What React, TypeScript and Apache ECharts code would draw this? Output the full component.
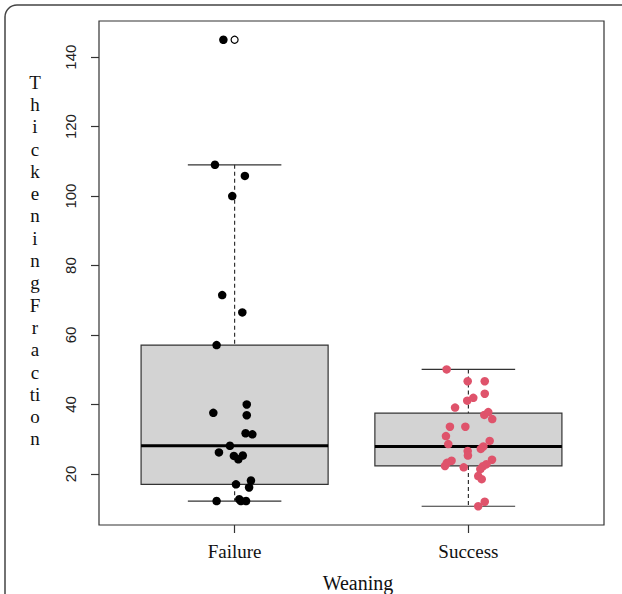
import React, { useEffect, useRef } from "react";
import * as echarts from "echarts";

// ---- data ----
const categories = ["Failure", "Success"];
const yTicks = [20, 40, 60, 80, 100, 120, 140];
const yTitleLetters = ["T", "h", "i", "c", "k", "e", "n", "i", "n", "g", "F", "r", "a", "c", "ti", "o", "n"];

// box statistics: [lower whisker, Q1, median, Q3, upper whisker]
const failureBox = [12.2, 17.0, 28.1, 57.1, 109.0];
const successBox = [10.7, 22.3, 27.9, 37.5, 50.1];
const failureOutliers = [145];

// jittered points (value + horizontal jitter offset in category units)
const failureValues = [145, 109, 105.8, 100, 71.5, 66.5, 57.1, 40.0, 37.6, 36.9, 31.7, 31.4, 28.1, 26.2, 25.2, 24.2, 25.3, 18.1, 17.0, 16.1, 12.7, 12.2, 12.2, 12.2];
const failureJitter = [-0.048, -0.084, 0.044, -0.01, -0.053, 0.033, -0.077, 0.052, -0.091, 0.052, 0.047, 0.076, -0.02, -0.067, -0.003, 0.016, 0.035, 0.07, 0.006, 0.062, 0.02, -0.077, 0.027, 0.049];

const successValues = [50.1, 46.7, 46.7, 43.1, 41.1, 41.9, 39.1, 37.0, 37.8, 35.8, 33.6, 33.6, 30.9, 29.5, 28.6, 27.9, 27.2, 26.6, 25.3, 24.1, 23.8, 23.2, 22.3, 21.9, 22.8, 22.2, 21.4, 19.4, 18.5, 10.7, 12.0];
const successJitter = [-0.093, -0.003, 0.07, 0.07, -0.005, 0.021, -0.057, 0.068, 0.085, 0.102, -0.079, -0.013, -0.096, 0.091, -0.086, 0.064, 0.053, -0.003, -0.002, 0.101, -0.072, -0.092, -0.1, -0.02, 0.077, 0.062, 0.051, 0.042, 0.057, 0.042, 0.07];

const SERIF = "'Liberation Serif', 'Times New Roman', serif";
const SANS = "'Liberation Sans', Arial, sans-serif";

export default function App() {
  const ref = useRef<HTMLDivElement>(null);

  useEffect(() => {
    if (!ref.current) return;
    const chart = echarts.init(ref.current, undefined, { renderer: "svg" });

    const boxData = [failureBox, successBox].map((s, i) => [i + 1, ...s]);

    const renderBox = (params: any, api: any) => {
      const cx = api.value(0);
      const lo = api.value(1);
      const q1 = api.value(2);
      const med = api.value(3);
      const q3 = api.value(4);
      const hi = api.value(5);
      const boxW = api.size([0.8, 0])[0];
      const capW = api.size([0.4, 0])[0];
      const pC = api.coord([cx, med]);
      const x = pC[0];
      const yLo = api.coord([cx, lo])[1];
      const yQ1 = api.coord([cx, q1])[1];
      const yMed = pC[1];
      const yQ3 = api.coord([cx, q3])[1];
      const yHi = api.coord([cx, hi])[1];
      const lineStyle = { stroke: "#333", lineWidth: 1.2 };
      return {
        type: "group",
        children: [
          { type: "line", shape: { x1: x, y1: yHi, x2: x, y2: yQ3 }, style: { ...lineStyle, lineDash: [4, 3] } },
          { type: "line", shape: { x1: x, y1: yQ1, x2: x, y2: yLo }, style: { ...lineStyle, lineDash: [4, 3] } },
          { type: "line", shape: { x1: x - capW / 2, y1: yHi, x2: x + capW / 2, y2: yHi }, style: lineStyle },
          { type: "line", shape: { x1: x - capW / 2, y1: yLo, x2: x + capW / 2, y2: yLo }, style: lineStyle },
          {
            type: "rect",
            shape: { x: x - boxW / 2, y: yQ3, width: boxW, height: yQ1 - yQ3 },
            style: { fill: "#D3D3D3", stroke: "#333", lineWidth: 1.2 },
          },
          { type: "line", shape: { x1: x - boxW / 2, y1: yMed, x2: x + boxW / 2, y2: yMed }, style: { stroke: "#000", lineWidth: 3 } },
        ],
      };
    };

    chart.setOption({
      animation: false,
      backgroundColor: "#fff",
      grid: {
        left: 99,
        top: 21,
        width: 505,
        height: 504,
        show: true,
        borderColor: "#333",
        borderWidth: 1.2,
        backgroundColor: "transparent",
      },
      xAxis: {
        type: "value",
        min: 0.42,
        max: 2.58,
        splitLine: { show: false },
        axisLine: { show: false },
        axisTick: { show: true, customValues: [1, 2], length: 8, lineStyle: { color: "#333", width: 1.2 } },
        axisLabel: {
          customValues: [1, 2],
          formatter: (v: number) => categories[Math.round(v) - 1] ?? "",
          fontFamily: SERIF,
          fontSize: 19,
          color: "#111",
          margin: 17,
        },
      },
      yAxis: {
        type: "value",
        min: 5.3,
        max: 150.4,
        splitLine: { show: false },
        axisLine: { show: false },
        axisTick: { show: true, customValues: yTicks, length: 8, lineStyle: { color: "#333", width: 1.2 } },
        axisLabel: {
          customValues: yTicks,
          rotate: 90,
          fontFamily: SANS,
          fontSize: 15,
          color: "#222",
          margin: 21,
        },
      },
      graphic: [
        {
          type: "rect",
          shape: { x: 5, y: 5, width: 720, height: 720, r: 12 },
          style: { fill: "none", stroke: "#444", lineWidth: 1.5 },
          silent: true,
        },
        {
          type: "text",
          x: 358,
          y: 583,
          style: {
            text: "Weaning",
            fontFamily: SERIF,
            fontSize: 20,
            fill: "#111",
            textAlign: "center",
            textVerticalAlign: "middle",
          },
        },
        {
          type: "text",
          x: 35,
          y: 71,
          style: {
            text: yTitleLetters.join("\n"),
            fontFamily: SERIF,
            fontSize: 19,
            lineHeight: 22.3,
            fill: "#111",
            textAlign: "center",
            textVerticalAlign: "top",
          },
        },
      ],
      series: [
        {
          type: "custom",
          renderItem: renderBox,
          data: boxData,
          encode: { x: 0, y: [1, 2, 3, 4, 5] },
          z: 1,
          silent: true,
        },
        {
          type: "scatter",
          data: failureOutliers.map((v) => [1, v]),
          symbol: "circle",
          symbolSize: 7,
          itemStyle: { color: "#fff", borderColor: "#000", borderWidth: 1.2, opacity: 1 },
          z: 2,
          silent: true,
        },
        {
          type: "scatter",
          data: failureValues.map((v, i) => [1 + failureJitter[i], v]),
          symbol: "circle",
          symbolSize: 8.5,
          itemStyle: { color: "#000", opacity: 1 },
          z: 3,
          silent: true,
        },
        {
          type: "scatter",
          data: successValues.map((v, i) => [2 + successJitter[i], v]),
          symbol: "circle",
          symbolSize: 8.5,
          itemStyle: { color: "#DF536B", opacity: 1 },
          z: 3,
          silent: true,
        },
      ],
    });

    return () => chart.dispose();
  }, []);

  return <div ref={ref} style={{ position: "absolute", left: 0, top: 0, width: 622, height: 594 }} />;
}
